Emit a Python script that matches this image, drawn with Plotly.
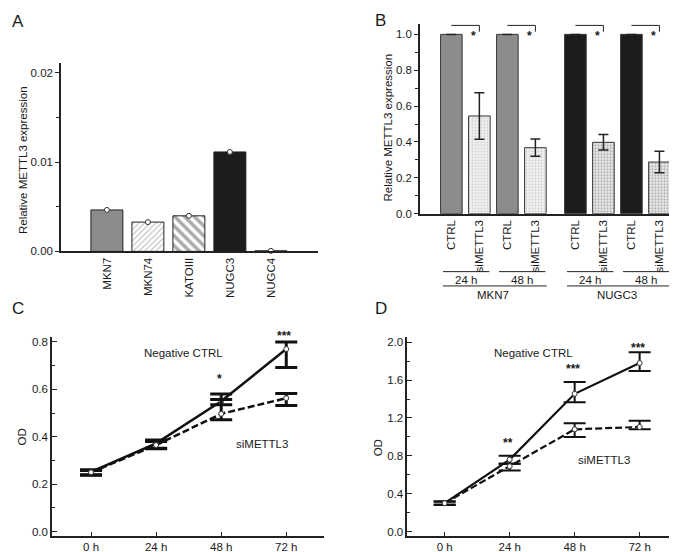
import plotly.graph_objects as go

W, H = 677, 552
FONT = "Liberation Sans, Arial, sans-serif"
INK = "#1a1a1a"

# ---------------- Panel A data ----------------
a_cells = ["MKN7", "MKN74", "KATOIII", "NUGC3", "NUGC4"]
a_values = [0.00464, 0.00328, 0.00398, 0.01113, 0.00006]

# ---------------- Panel B data ----------------
b_cells = ["MKN7", "MKN7", "MKN7", "MKN7", "NUGC3", "NUGC3", "NUGC3", "NUGC3"]
b_times = ["24 h", "24 h", "48 h", "48 h", "24 h", "24 h", "48 h", "48 h"]
b_conds = ["CTRL", "siMETTL3", "CTRL", "siMETTL3", "CTRL", "siMETTL3", "CTRL", "siMETTL3"]
b_values = [1.0, 0.545, 1.0, 0.368, 1.0, 0.398, 1.0, 0.288]
b_errors = [0.0, 0.13, 0.0, 0.048, 0.0, 0.043, 0.0, 0.06]
b_sig = ["*", "*", "*", "*"]

# ---------------- Panel C data ----------------
times = ["0 h", "24 h", "48 h", "72 h"]
c_ctrl_mean = [0.252, 0.372, 0.550, 0.770]
c_ctrl_up = [0.261, 0.386, 0.580, 0.800]
c_ctrl_low = [0.240, 0.350, 0.535, 0.692]
c_si_mean = [0.250, 0.365, 0.497, 0.563]
c_si_up = [0.258, 0.380, 0.557, 0.583]
c_si_low = [0.238, 0.352, 0.472, 0.532]
c_sig = ["", "", "*", "***"]

# ---------------- Panel D data ----------------
d_ctrl_mean = [0.300, 0.760, 1.455, 1.780]
d_ctrl_up = [0.320, 0.800, 1.580, 1.895]
d_ctrl_low = [0.280, 0.715, 1.365, 1.695]
d_si_mean = [0.300, 0.690, 1.080, 1.105]
d_si_up = [0.315, 0.715, 1.145, 1.170]
d_si_low = [0.285, 0.645, 1.000, 1.080]
d_sig = ["", "**", "***", "***"]


def px(x):
    return x / W


def py(y):
    return 1 - y / H


# axis geometry (pixels) -> used for domains
A_DOM_X, A_DOM_Y = (53, 310), (245.5, 55)
B_DOM_X, B_DOM_Y = (412, 673), (207.3, 15)
C_DOM_X, C_DOM_Y = (44, 316), (533.5, 332.7)
D_DOM_X, D_DOM_Y = (399.3, 670), (533.5, 332.7)
C_RANGE_Y = [-0.0175, 0.819]
D_RANGE_Y = [-0.044, 2.05]


def data_to_paper_y(v, dom, rng):
    lo, hi = py(dom[0]), py(dom[1])
    return lo + (v - rng[0]) / (rng[1] - rng[0]) * (hi - lo)


fig = go.Figure()

# ---------------- Panel A ----------------
a_style = {
    "MKN7": dict(color="#8c8c8c", pattern=dict(shape="")),
    "MKN74": dict(color="white", pattern=dict(shape="/", fgcolor="#8a8a8a", bgcolor="white",
                                              size=4, solidity=0.3, fillmode="overlay")),
    "KATOIII": dict(color="white", pattern=dict(shape="\\", fgcolor="#555555", bgcolor="white",
                                                size=7, solidity=0.5, fillmode="overlay")),
    "NUGC3": dict(color="#1c1c1c", pattern=dict(shape="")),
    "NUGC4": dict(color="#1c1c1c", pattern=dict(shape="")),
}
a_x = list(range(len(a_cells)))
for xi, cell, val in zip(a_x, a_cells, a_values):
    st = a_style[cell]
    fig.add_trace(go.Bar(
        x=[xi], y=[val], width=0.78, xaxis="x", yaxis="y",
        marker=dict(color=st["color"], line=dict(color="#222222", width=1),
                    pattern=st["pattern"]),
        hoverinfo="skip",
    ))
fig.add_trace(go.Scatter(
    x=a_x, y=a_values, mode="markers", xaxis="x", yaxis="y", cliponaxis=False,
    marker=dict(symbol="circle", size=5, color="white", line=dict(color="#333", width=1)),
    hoverinfo="skip",
))

# ---------------- Panel B ----------------
group_order = []
for c in b_cells:
    if c not in group_order:
        group_order.append(c)
b_x = [i + group_order.index(c) * 0.43 for i, c in enumerate(b_cells)]
for xi, cell, cond, val, err in zip(b_x, b_cells, b_conds, b_values, b_errors):
    g = group_order.index(cell)
    if cond == "CTRL":
        col = "#8c8c8c" if g == 0 else "#1c1c1c"
        marker = dict(color=col, line=dict(color="#333333", width=1))
    else:
        bg = "#f4f4f4" if g == 0 else "#eaeaea"
        fg = "#a8a8a8" if g == 0 else "#6a6a6a"
        marker = dict(color=bg, line=dict(color="#333333", width=1),
                      pattern=dict(shape=".", fgcolor=fg, bgcolor=bg, size=3,
                                   solidity=0.4, fillmode="overlay"))
    fig.add_trace(go.Bar(
        x=[xi], y=[val], width=0.77, xaxis="x2", yaxis="y2", marker=marker,
        error_y=dict(type="data", array=[err], visible=True, color="#222",
                     thickness=1.5, width=5),
        hoverinfo="skip",
    ))

shapes = []
annotations = []

# significance brackets in B
pairs = [(i, i + 1) for i in range(0, len(b_conds), 2)]
for (ci, si), star in zip(pairs, b_sig):
    shapes.append(dict(type="line", xref="x2", yref="y2", x0=b_x[ci], x1=b_x[si],
                       y0=1.05, y1=1.05, line=dict(color="#222", width=1)))
    shapes.append(dict(type="line", xref="x2", yref="y2", x0=b_x[si], x1=b_x[si],
                       y0=1.05, y1=1.015, line=dict(color="#222", width=1)))
    annotations.append(dict(text="<b>%s</b>" % star, xref="x2", yref="y2", x=b_x[si] - 0.2,
                            y=0.99, showarrow=False, font=dict(size=12, color=INK)))

# time-group lines and labels
for ci, si in pairs:
    x0, x1 = b_x[ci] - 0.3, b_x[si] + 0.36
    shapes.append(dict(type="line", xref="x2", yref="paper", x0=x0, x1=x1,
                       y0=py(266), y1=py(266), line=dict(color="#222", width=1)))
    annotations.append(dict(text=b_times[ci], xref="x2", yref="paper",
                            x=(b_x[ci] + b_x[si]) / 2 + 0.03, y=py(274),
                            showarrow=False, font=dict(size=11.5, color=INK)))
for g in group_order:
    idx = [i for i, c in enumerate(b_cells) if c == g]
    x0, x1 = b_x[idx[0]] - 0.3, b_x[idx[-1]] + 0.4
    shapes.append(dict(type="line", xref="x2", yref="paper", x0=x0, x1=x1,
                       y0=py(280.5), y1=py(280.5), line=dict(color="#222", width=1)))
    annotations.append(dict(text=g, xref="x2", yref="paper",
                            x=(b_x[idx[0]] + b_x[idx[-1]]) / 2, y=py(289.5),
                            showarrow=False, font=dict(size=11.5, color=INK)))

# ---------------- Panels C and D ----------------
t_x = list(range(len(times)))


def add_growth(xa, ya, mean, up, low, dash, lw, ew):
    fig.add_trace(go.Scatter(
        x=t_x, y=mean, mode="lines+markers", xaxis=xa, yaxis=ya, cliponaxis=False,
        line=dict(color="#111", width=lw, dash=dash),
        marker=dict(symbol="circle", size=5, color="white", line=dict(color="#333", width=1)),
        error_y=dict(type="data", symmetric=False,
                     array=[u - m for u, m in zip(up, mean)],
                     arrayminus=[m - l for m, l in zip(mean, low)],
                     color="#111", thickness=ew, width=11, visible=True),
        hoverinfo="skip",
    ))


add_growth("x3", "y3", c_ctrl_mean, c_ctrl_up, c_ctrl_low, "solid", 2.5, 3)
add_growth("x3", "y3", c_si_mean, c_si_up, c_si_low, "7px,3px", 2.5, 3)
add_growth("x4", "y4", d_ctrl_mean, d_ctrl_up, d_ctrl_low, "solid", 2.2, 2)
add_growth("x4", "y4", d_si_mean, d_si_up, d_si_low, "7px,3px", 2.2, 2)

for i, s in enumerate(c_sig):
    if s:
        annotations.append(dict(text="<b>%s</b>" % s, xref="x3", yref="paper", x=t_x[i] - 0.03,
                                y=data_to_paper_y(c_ctrl_up[i] + 0.027, C_DOM_Y, C_RANGE_Y),
                                showarrow=False, font=dict(size=12, color=INK)))
for i, s in enumerate(d_sig):
    if s:
        annotations.append(dict(text="<b>%s</b>" % s, xref="x4", yref="paper", x=t_x[i] - 0.03,
                                y=data_to_paper_y(d_ctrl_up[i] + 0.04, D_DOM_Y, D_RANGE_Y),
                                showarrow=False, font=dict(size=12, color=INK)))

annotations += [
    dict(text="Negative CTRL", xref="x3", yref="y3", x=1.42, y=0.754, showarrow=False,
         font=dict(size=11.5, color=INK)),
    dict(text="siMETTL3", xref="x3", yref="y3", x=2.63, y=0.368, showarrow=False,
         font=dict(size=11.5, color=INK)),
    dict(text="Negative CTRL", xref="x4", yref="y4", x=1.36, y=1.882, showarrow=False,
         font=dict(size=11.5, color=INK)),
    dict(text="siMETTL3", xref="x4", yref="y4", x=2.45, y=0.758, showarrow=False,
         font=dict(size=11.5, color=INK)),
]

# axis titles
for txt, x, y in [("Relative METTL3 expression", 15, 153),
                  ("Relative METTL3 expression", 380, 120),
                  ("OD", 14, 434), ("OD", 370, 445)]:
    annotations.append(dict(text=txt, xref="paper", yref="paper", x=px(x), y=py(y),
                            textangle=-90, showarrow=False, xanchor="center", yanchor="middle",
                            font=dict(size=11.5, color=INK)))

# panel letters
for txt, x, y in [("A", 10, 13), ("B", 372, 12), ("C", 10, 303), ("D", 373, 303)]:
    annotations.append(dict(text=txt, xref="paper", yref="paper", x=px(x), y=py(y),
                            showarrow=False, xanchor="center", yanchor="middle",
                            font=dict(size=17, color=INK)))

axis_common = dict(showline=True, linecolor="#222", linewidth=1.5, showgrid=False,
                   zeroline=False, tickfont=dict(size=11.5, color=INK), tickcolor="#222")

fig.update_layout(
    width=W, height=H, margin=dict(l=0, r=0, t=0, b=0),
    paper_bgcolor="white", plot_bgcolor="white", showlegend=False,
    font=dict(family=FONT, size=11.5, color=INK),
    barmode="overlay",
    xaxis=dict(axis_common, domain=[px(A_DOM_X[0]), px(A_DOM_X[1])], range=[-1.12, 5.15],
               anchor="y", tickmode="array", tickvals=a_x, ticktext=a_cells, tickangle=-90,
               ticks=""),
    yaxis=dict(axis_common, domain=[py(A_DOM_Y[0]), py(A_DOM_Y[1])], range=[0, 0.02105],
               anchor="x", dtick=0.01, tickformat=".2f", ticks="outside", ticklen=4,
               minor=dict(dtick=0.005, ticks="outside", ticklen=3, tickcolor="#222")),
    xaxis2=dict(axis_common, domain=[px(B_DOM_X[0]), px(B_DOM_X[1])], range=[-1.12, 8.2],
                anchor="y2", tickmode="array", tickvals=b_x, ticktext=b_conds, tickangle=-90,
                ticks=""),
    yaxis2=dict(axis_common, domain=[py(B_DOM_Y[0]), py(B_DOM_Y[1])], range=[0, 1.059],
                anchor="x2", dtick=0.2, tickformat=".1f", ticks="outside", ticklen=4,
                minor=dict(dtick=0.1, ticks="outside", ticklen=3, tickcolor="#222")),
    xaxis3=dict(axis_common, domain=[px(C_DOM_X[0]), px(C_DOM_X[1])], range=[-0.6, 3.58],
                anchor="y3", tickmode="array", tickvals=t_x, ticktext=times, ticks="inside",
                ticklen=4),
    yaxis3=dict(axis_common, domain=[py(C_DOM_Y[0]), py(C_DOM_Y[1])], range=C_RANGE_Y,
                anchor="x3", dtick=0.2, tickformat=".1f", ticks="inside", ticklen=5,
                minor=dict(dtick=0.1, ticks="inside", ticklen=3, tickcolor="#222")),
    xaxis4=dict(axis_common, domain=[px(D_DOM_X[0]), px(D_DOM_X[1])], range=[-0.575, 3.59],
                anchor="y4", tickmode="array", tickvals=t_x, ticktext=times, ticks="inside",
                ticklen=4),
    yaxis4=dict(axis_common, domain=[py(D_DOM_Y[0]), py(D_DOM_Y[1])], range=D_RANGE_Y,
                anchor="x4", dtick=0.4, tickformat=".1f", ticks="inside", ticklen=5,
                minor=dict(dtick=0.2, ticks="inside", ticklen=3, tickcolor="#222")),
    shapes=shapes,
    annotations=annotations,
)

fig.write_html("out.html")
